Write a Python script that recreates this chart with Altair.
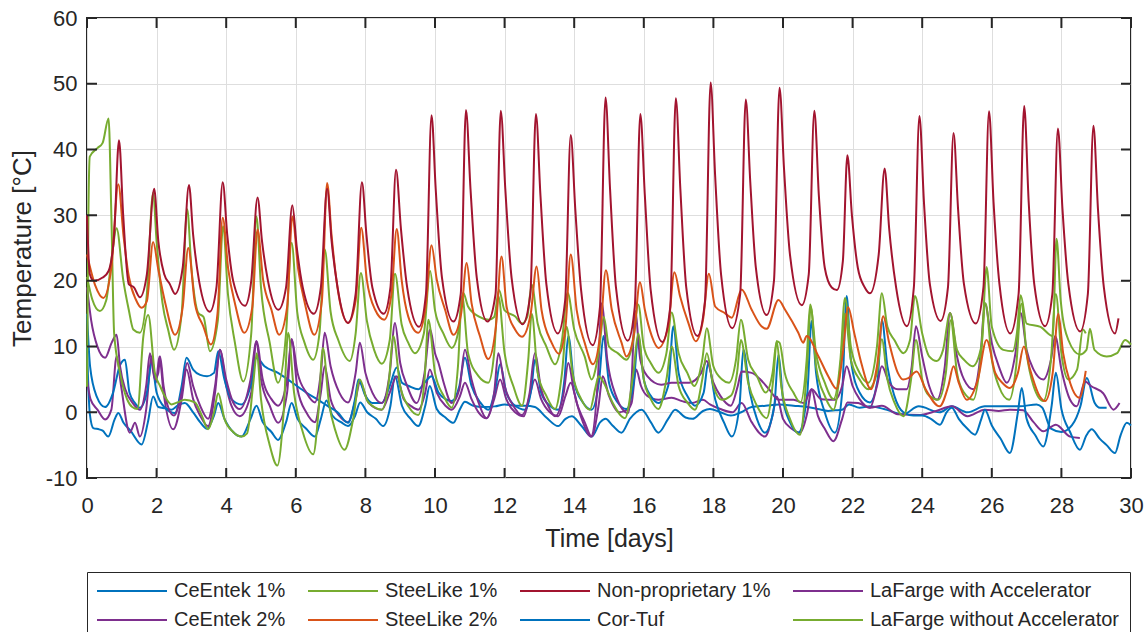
import altair as alt
import pandas as pd

# ---- series data: (time [days], temperature [°C]) ----
NONPROP_1 = [(0,30),(0.08,21),(0.2,20),(0.45,20.5),(0.62,21.5),(0.78,27),(0.92,41.4),(1.04,30),(1.2,19.5),(1.35,19),
 (1.52,17.5),(1.72,21),(1.93,34),(2.05,26),(2.22,21),(2.38,19.5),(2.53,18),(2.75,22),(2.93,34.6),(3.05,27),(3.22,20),
 (3.53,15.3),(3.72,19),(3.9,35),(4.03,27),(4.2,20),(4.54,16.2),(4.72,20),(4.9,32.7),(5.03,26),(5.2,20),(5.5,15.6),
 (5.72,19),(5.9,31.5),(6.03,25),(6.2,19),(6.52,15),(6.72,19),(6.9,34),(7.03,26),(7.2,19),(7.5,13.6),(7.72,18),(7.9,35),
 (8.03,27),(8.2,19),(8.53,15),(8.72,19),(8.88,36.9),(9.02,28),(9.2,19),(9.54,13),(9.74,18),(9.9,45.2),(10.02,34),
 (10.2,20.5),(10.53,13.8),(10.74,18),(10.89,46),(11.02,34),(11.2,20.5),(11.51,13.8),(11.74,18),(11.89,45.9),(12.02,34),
 (12.2,20.5),(12.52,13.4),(12.74,18),(12.9,45.4),(13.03,33),(13.2,19.5),(13.53,12),(13.74,17),(13.9,42.2),(14.03,31),
 (14.2,18.5),(14.53,10.2),(14.74,16),(14.9,47.9),(15.03,34),(15.2,19),(15.54,10.9),(15.74,16),(15.9,45.4),(16.03,33),
 (16.2,18.5),(16.53,10.7),(16.76,16),(16.92,47.8),(17.05,34),(17.22,19),(17.54,11.6),(17.76,17),(17.92,50.2),(18.05,36),
 (18.22,21),(18.54,12.8),(18.77,18),(18.93,47.6),(19.06,35),(19.22,22),(19.53,14.8),(19.74,20),(19.9,49.4),(20.03,37),
 (20.2,24),(20.54,16.3),(20.74,21),(20.9,45.9),(21.03,33),(21.2,22),(21.4,19),(21.55,18.6),(21.72,23),(21.85,39.1),
 (21.98,30),(22.15,22),(22.35,19),(22.5,18.1),(22.75,24),(22.92,37.1),(23.05,28),(23.25,19),(23.56,13.1),(23.76,19),
 (23.92,45.1),(24.05,32),(24.22,19.5),(24.53,13.9),(24.74,19),(24.9,42.5),(25.03,31),(25.2,19.5),(25.54,13.5),(25.76,19),
 (25.92,45.8),(26.05,32),(26.22,19.5),(26.53,12),(26.77,18),(26.93,46.6),(27.06,32),(27.22,19.5),(27.53,13.1),(27.74,18),
 (27.9,43.2),(28.03,31),(28.2,19.5),(28.54,12.3),(28.76,18),(28.92,43.6),(29.05,31),(29.22,19),(29.54,12),(29.64,14.3)]

STEELIKE_2 = [(0,24),(0.23,19.4),(0.47,17.4),(0.7,22),(0.9,34.7),(1.05,26.8),(1.2,20.7),(1.4,17.2),(1.57,15.9),(1.72,16.9),
 (1.9,25.9),(2.05,21.7),(2.25,16.6),(2.53,11.8),(2.75,16),(2.91,25),(3.1,16.6),(3.34,13.1),(3.56,10.3),(3.75,15),(3.9,29.6),
 (4.06,21.7),(4.25,16.6),(4.52,12.1),(4.75,16),(4.9,27.8),(5.06,20.2),(5.3,15.6),(5.52,11.8),(5.75,16),(5.9,29.8),(6.07,21.7),
 (6.26,16.6),(6.53,11.8),(6.75,17),(6.9,34.9),(7.03,26.8),(7.22,18.2),(7.5,13.6),(7.72,17),(7.88,28.1),(8.04,20.2),(8.28,15.6),
 (8.54,14.1),(8.75,18),(8.9,27.9),(9.04,20.2),(9.23,14.6),(9.52,12.1),(9.73,16),(9.9,25.4),(10.05,20.2),(10.29,15.6),
 (10.53,11.8),(10.75,15),(10.91,22.7),(11.05,16.6),(11.29,11.6),(11.53,8.1),(11.75,13),(11.91,23.7),(12.06,16),(12.3,12.6),
 (12.5,11.5),(12.75,15),(12.92,22.2),(13.06,15.6),(13.35,10.6),(13.56,8.9),(13.75,13),(13.9,24),(14.07,15.6),(14.3,10.6),
 (14.54,7.3),(14.75,12),(14.91,21.6),(15.08,15.6),(15.36,10.6),(15.5,8.5),(15.72,12),(15.89,19.8),(16.03,15.6),(16.23,11.6),
 (16.42,9.8),(16.7,13),(16.88,21.3),(17.04,17.7),(17.28,13.6),(17.49,10.8),(17.7,14),(17.87,21.1),(18.05,16.1),(18.33,15.1),
 (18.53,14.4),(18.81,18.7),(19.1,15.6),(19.38,13.1),(19.53,12.7),(19.87,17.1),(20.06,15.6),(20.44,12.1),(20.58,10.6),
 (20.68,11.6),(21.02,8.5),(21.3,5.5),(21.54,3.6),(21.72,9),(21.87,16),(22.05,12),(22.25,7.5),(22.53,3.5),(22.7,7),
 (22.88,14.6),(23.05,10.6),(23.3,6),(23.45,5),(23.6,5.2),(23.84,6.2),(24.1,3.5),(24.5,0.9),(24.75,4),(24.9,7),(25.05,4.5),
 (25.28,1.9),(25.6,5),(25.85,11),(26.1,6),(26.3,4.5),(26.52,3.7),(26.75,6),(26.92,10),(27.1,6.5),(27.38,2.4),(27.53,1.7),
 (27.75,6),(27.91,15),(28.05,9),(28.25,4.5),(28.52,2.2),(28.7,6.3)]

STEELIKE_1 = [(0,20.6),(0.15,17.2),(0.37,15.4),(0.55,17),(0.72,24),(0.85,28),(1.04,20.2),(1.2,15.6),(1.33,12.6),(1.52,12.1),
 (1.72,18),(1.9,33.4),(2.0,26),(2.17,16.6),(2.33,12.6),(2.5,9.5),(2.72,15),(2.88,30.9),(3.0,22),(3.2,15.1),(3.35,14.5),
 (3.53,9.3),(3.76,14),(3.91,28.3),(4.05,18),(4.25,10.6),(4.49,4.7),(4.72,12),(4.87,29.8),(5.0,19),(5.25,10.6),(5.49,4.5),
 (5.72,12),(5.88,25.8),(6.04,15.3),(6.25,10.6),(6.5,8.0),(6.68,12),(6.83,24.8),(7.0,15.3),(7.22,11),(7.55,7.8),(7.72,12),
 (7.87,21.2),(8.04,14),(8.25,9.5),(8.47,7.4),(8.7,11),(8.85,21.1),(9.04,13.4),(9.23,10.6),(9.42,9.0),(9.68,12),(9.86,21.5),
 (10.0,15.5),(10.24,12),(10.48,9.8),(10.66,12),(10.81,18.2),(10.95,16.1),(11.25,14.6),(11.55,14.1),(11.7,14.5),(11.84,18.6),
 (12.0,15.5),(12.3,14.6),(12.5,13.5),(12.65,14.5),(12.78,19.4),(12.95,13.5),(13.2,10),(13.45,7.3),(13.65,11),(13.81,18.2),
 (14.0,12.6),(14.3,8.5),(14.5,5.0),(14.7,9),(14.85,14.5),(15.0,10),(15.25,9),(15.5,8),(15.7,11),(15.84,16.4),(16.0,10),
 (16.2,7.5),(16.42,6),(16.65,9),(16.8,15.2),(17.0,9),(17.25,6),(17.45,4),(17.68,8),(17.81,12.8),(18.0,7),(18.25,5),
 (18.45,4.5),(18.65,8),(18.79,14.1),(19.0,8),(19.25,5.5),(19.5,3),(19.7,6),(19.82,10.8),(19.9,10.6),(20.05,6),(20.3,3),
 (20.5,1.5),(20.68,8),(20.78,16.4),(20.95,9),(21.2,4.5),(21.45,2),(21.65,8),(21.78,17.4),(21.95,10),(22.2,6),(22.45,4.5),
 (22.7,10),(22.84,18.1),(23.0,13),(23.2,11),(23.46,9),(23.65,11),(23.79,17.7),(24.0,12),(24.2,8.5),(24.42,7.8),(24.6,9.5),
 (24.8,15.1),(25.0,9.5),(25.2,8),(25.45,7),(25.7,10),(25.85,22.1),(26.0,13),(26.33,9.5),(26.6,9.3),(26.72,12),(26.83,17.8),
 (27.0,13.5),(27.4,13),(27.75,11.6),(27.86,26.4),(27.98,17),(28.2,11),(28.53,8.8),(28.72,9.5),(28.82,12.7),(28.95,9.5),
 (29.3,8.5),(29.6,9),(29.83,11.0),(30,10.3)]

LAFARGE_WITHOUT = [(0,3.9),(0.04,30),(0.08,38.9),(0.3,40.2),(0.45,41),(0.62,44.7),(0.7,30),(0.78,12),(0.95,6),(1.15,2),
 (1.3,0.8),(1.45,0.5),(1.62,11.6),(1.76,14.8),(1.95,6),(2.1,4),(2.24,2.4),(2.43,1.2),(2.6,1.5),(2.81,1.9),(3.1,1.5),
 (3.3,-0.5),(3.48,-2.6),(3.65,0),(3.77,2.9),(3.95,-1),(4.2,-3),(4.44,-3.7),(4.6,-3.2),(4.78,4.5),(4.88,9),(5.0,2),
 (5.25,-5),(5.47,-8.1),(5.65,0),(5.78,12.1),(5.95,3),(6.2,-3),(6.5,-6.4),(6.65,0),(6.78,9.8),(6.95,1.5),(7.15,-3),
 (7.4,-5.7),(7.65,-1),(7.84,5.0),(8.05,1.8),(8.25,0.8),(8.47,0.4),(8.68,5),(8.8,11.6),(9.0,4),(9.25,0.8),(9.52,-0.4),
 (9.7,5),(9.81,14.1),(10.0,6),(10.25,2.5),(10.48,0.7),(10.66,7),(10.78,17.7),(10.95,9),(11.25,5.5),(11.53,4.5),(11.7,9),
 (11.82,17.7),(12.0,9),(12.25,4),(12.5,1.0),(12.68,8),(12.78,15),(12.95,6),(13.2,2.5),(13.45,0.5),(13.65,6),(13.78,13),
 (13.95,6),(14.2,2),(14.45,0.4),(14.62,4),(14.7,5.5),(14.85,4.5),(15.1,1.5),(15.46,-0.9),(15.7,6),(15.84,12),(16.0,5),
 (16.2,2),(16.42,0.5),(16.65,5),(16.8,10),(17.0,4),(17.25,1.5),(17.47,0.4),(17.68,5),(17.81,9),(18.0,4),(18.24,1.9),
 (18.5,2.5),(18.68,6),(18.79,11),(19.0,4.5),(19.25,1),(19.53,-0.9),(19.72,5),(19.82,10.8),(19.95,4),(20.2,-1),(20.49,-3.4),
 (20.68,6),(20.8,16),(20.95,7),(21.2,2.5),(21.45,0.4),(21.65,7),(21.78,15),(21.95,8),(22.2,5),(22.45,3.5),(22.7,6),
 (22.84,11.1),(23.0,5),(23.2,1.5),(23.46,-0.6),(23.68,5),(23.82,11),(24.0,5),(24.2,2.5),(24.46,1.9),(24.68,6),(24.82,14),
 (25.0,6),(25.2,3),(25.47,1.9),(25.68,8),(25.82,16.6),(26.0,8),(26.2,4),(26.5,1.9),(26.7,7),(26.85,16.5),(27.0,9),
 (27.2,4),(27.48,1.7),(27.7,8),(27.84,18),(28.0,9),(28.2,5),(28.45,6.5),(28.62,12.6),(28.7,12)]

LAFARGE_WITH = [(0,19),(0.12,14),(0.3,10),(0.52,8.3),(0.71,10.6),(0.85,11.8),(0.95,7),(1.1,3.5),(1.3,1.5),(1.52,0.4),
 (1.7,4),(1.81,9.0),(1.95,5),(2.05,6),(2.1,8.5),(2.2,4),(2.35,0.5),(2.5,-0.5),(2.72,3),(2.88,7.5),(3.05,4),(3.25,1),
 (3.48,-1),(3.68,4),(3.82,9.5),(4.0,5),(4.2,1.5),(4.39,0.5),(4.7,5),(4.87,10.8),(5.05,5),(5.3,2),(5.49,1),(5.75,5),
 (5.88,11.1),(6.05,6),(6.3,3),(6.55,1.5),(6.72,6),(6.83,12.1),(7.0,7),(7.25,3),(7.5,1.5),(7.72,6),(7.84,10.6),(8.0,6),
 (8.2,3),(8.47,1.4),(8.7,6),(8.85,13.6),(9.0,7.5),(9.2,4),(9.47,1.4),(9.7,6),(9.86,12.6),(10.0,9),(10.1,7.5),(10.25,4.5),
 (10.48,1.4),(10.7,3.5),(10.86,9.5),(11.05,5),(11.25,1.5),(11.48,-0.9),(11.7,3),(11.82,9),(12.0,4),(12.25,1),(12.49,-0.4),
 (12.72,3),(12.87,9),(13.05,3.5),(13.25,1),(13.45,-0.6),(13.7,3),(13.83,7.5),(14.0,3),(14.25,-1.5),(14.48,-3.7),(14.68,5),
 (14.79,16.6),(14.95,8),(15.2,2.5),(15.55,-0.1),(15.65,5),(15.75,15.4),(15.9,8),(16.1,5.5),(16.5,4.2),(16.8,4.5),
 (17.3,4.5),(17.65,6),(17.81,7.8),(18.0,4.5),(18.2,2.5),(18.5,1),(18.7,4),(18.81,6.2),(19.1,6),(19.35,5),(19.6,3.5),
 (19.87,1.9),(20.3,1.9),(20.6,1.4),(20.82,3.5),(21.1,2),(21.5,1.9),(21.7,4),(21.83,7.0),(22.0,4),(22.2,2),(22.5,0.7),
 (22.7,4),(22.84,7.0),(23.05,4.5),(23.3,3.5),(23.55,3.5),(23.7,7),(23.82,13.1),(24.0,8.5),(24.2,4),(24.42,1.9),(24.65,7),
 (24.8,15.1),(25.0,8.5),(25.2,5),(25.47,3.5),(25.68,9),(25.8,16.6),(26.0,10.5),(26.2,7),(26.43,4.5),(26.68,9),(26.83,15.1),
 (27.0,9.5),(27.2,6.5),(27.48,5.0),(27.7,8),(27.82,11.6),(28.0,6.5),(28.25,1.9),(28.44,0.9),(28.68,4.7),(28.85,4),
 (29.2,2.9),(29.5,0.4),(29.67,1.4)]

CEENTEK_2 = [(0,5),(0.1,2),(0.3,0.4),(0.52,-1.1),(0.7,0.4),(0.85,8.5),(0.98,4),(1.23,-3.1),(1.38,-1.6),(1.52,-3.7),
 (1.7,0.4),(1.86,8.5),(1.98,4.5),(2.08,8.5),(2.2,3),(2.48,-2.6),(2.72,2),(2.86,6.5),(3.05,2),(3.25,-0.5),(3.48,-2.1),
 (3.68,3),(3.82,9.5),(4.0,4),(4.15,1),(4.39,-0.6),(4.72,3),(4.87,10.8),(5.0,5),(5.25,1),(5.49,-1.6),(5.75,3),(5.88,11.1),
 (6.05,3.5),(6.3,0),(6.55,-1.5),(6.72,3),(6.83,7),(7.0,2),(7.25,-0.5),(7.5,-1.5),(7.72,2),(7.84,4.5),(8.1,1.4),(8.47,0.4),
 (8.7,3),(8.9,5.5),(9.1,2),(9.3,1),(9.52,0.4),(9.72,3),(9.85,6.5),(10.05,3),(10.3,1),(10.48,0.4),(10.72,2.5),(10.86,4.5),
 (11.05,2),(11.25,0),(11.48,-0.9),(11.7,2),(11.87,5),(12.05,2),(12.3,0),(12.55,-0.6),(12.72,2.5),(12.87,5),(13.05,2),
 (13.3,0),(13.54,-0.6),(13.75,2.5),(13.9,4.5),(14.1,1),(14.3,-1.5),(14.5,-3.7),(14.7,1),(14.82,5.5),(15.0,2.5),(15.3,0),
 (15.55,0.5),(15.65,1.4),(15.78,6.5),(15.92,4),(16.1,2.5),(16.42,1.9),(16.8,2.2),(17.1,1.7),(17.38,1.4),(17.7,1.9),
 (17.9,1.2),(18.2,0.5),(18.55,0),(18.81,1.4),(19.1,-1.5),(19.48,-3.7),(19.7,-0.5),(19.82,2.4),(20.0,-1),(20.25,-2.5),
 (20.49,-3.1),(20.7,0),(20.82,3.5),(21.0,-0.5),(21.2,-2.5),(21.45,-4.4),(21.7,-1),(21.85,1.5),(22.16,1.4),(22.5,0.7),
 (22.84,1.0),(23.3,-0.3),(23.94,-0.4),(24.4,0.2),(24.85,0.9),(25.3,-0.6),(25.8,0.4),(26.2,0.2),(26.52,0.4),(26.9,0.3),
 (27.2,-1.5),(27.48,-2.9),(27.84,-1.9),(28.25,-3.7),(28.53,-3.9)]

COR_TUF = [(0,15),(0.09,6.9),(0.28,2.4),(0.52,0.8),(0.75,3),(0.95,7.2),(1.09,8.0),(1.22,3),(1.38,1.4),(1.52,0.7),(1.72,3),
 (1.86,7.5),(2.0,3),(2.24,0.7),(2.53,-0.1),(2.72,4),(2.86,8.3),(3.05,6.5),(3.25,5.7),(3.45,5.5),(3.65,6),(3.77,9.3),
 (3.95,5),(4.15,2),(4.44,1.2),(4.7,4),(4.87,8.3),(5.1,7),(5.49,6.0),(5.9,4.5),(6.3,3),(6.64,1.9),(6.9,1),(7.2,0),
 (7.5,-1.6),(7.7,2),(7.8,5.0),(8.0,2.5),(8.2,1.4),(8.47,1.4),(8.7,4),(8.9,6.8),(9.05,4.5),(9.25,4),(9.52,3.5),(9.7,4.5),
 (9.9,5.5),(10.1,3),(10.3,2),(10.48,1.7),(10.7,4),(10.86,8.3),(11.05,4),(11.3,1.5),(11.53,0.4),(11.75,4),(11.87,7.3),
 (12.05,3),(12.3,1),(12.59,0.4),(12.78,4),(12.87,8.0),(13.05,3),(13.3,1),(13.54,0.4),(13.72,5),(13.83,11.6),(14.0,4.5),
 (14.25,1.5),(14.5,0.4),(14.72,5),(14.84,11.6),(15.0,4.5),(15.25,1.5),(15.5,0.5),(15.72,5),(15.84,11.6),(16.0,5),(16.2,2.5),
 (16.42,1.4),(16.7,4),(16.85,13.1),(17.0,6),(17.25,2.5),(17.47,1),(17.72,3),(17.85,7.5),(18.05,2),(18.3,-1.5),(18.53,-3.7),
 (18.75,1),(18.86,9.5),(19.05,3),(19.25,-1),(19.48,-3.1),(19.75,1),(19.87,8.8),(20.0,2),(20.2,-1.5),(20.44,-3.1),(20.7,3),
 (20.82,13.9),(20.95,6),(21.2,0),(21.49,-3.1),(21.7,3),(21.83,17.7),(21.95,8),(22.2,3),(22.5,1.5),(22.72,5),(22.84,14.1),
 (23.0,7),(23.2,2.5),(23.46,0),(23.75,-0.5),(24.0,-0.5),(24.25,-1),(24.51,-1.9),(24.7,0),(24.85,0.7),(25.05,-1),(25.3,-2.5),
 (25.52,-3.4),(25.7,-1),(25.8,0.4),(26.0,-2),(26.25,-4),(26.52,-6.2),(26.75,0),(26.86,3.7),(27.0,-1),(27.25,-3.5),
 (27.48,-5.2),(27.72,1),(27.84,6.0),(28.0,0.5),(28.25,-3),(28.53,-5.7),(28.72,-3.5),(28.87,-2.6),(29.1,-4),(29.3,-5),
 (29.54,-6.2),(29.7,-3.5),(29.88,-1.6),(30,-2)]

CEENTEK_1 = [(0,10),(0.08,-0.2),(0.18,-2.4),(0.35,-2.6),(0.45,-2.8),(0.61,-3.7),(0.8,-1),(0.9,-0.1),(1.05,-1.6),(1.25,-2.8),
 (1.57,-4.9),(1.75,-1.5),(1.9,2.4),(2.05,0.8),(2.25,0.6),(2.43,0.4),(2.6,1),(2.81,1.4),(3.05,0),(3.25,-1.5),(3.45,-2.5),
 (3.65,-0.5),(3.77,1.4),(3.95,-1),(4.2,-3),(4.44,-3.7),(4.7,-1),(4.87,1),(5.05,-1.5),(5.3,-3),(5.49,-4.2),(5.72,-1.5),
 (5.88,1.4),(6.05,-1),(6.3,-2.5),(6.55,-3.7),(6.72,-1),(6.88,1.8),(7.05,-0.5),(7.3,-1.5),(7.5,-2.1),(7.7,-0.6),(7.85,1.5),
 (8.05,0),(8.3,-1),(8.51,-2.1),(8.72,1),(8.85,5.5),(9.05,1),(9.3,-1),(9.52,-2.1),(9.72,1),(9.85,4),(10.05,0.5),(10.3,-0.8),
 (10.53,-1.6),(10.72,0.5),(10.86,1.6),(11.1,1),(11.4,0.8),(11.72,0.9),(12.0,1.2),(12.3,1),(12.6,1),(12.87,0.8),(13.2,-0.8),
 (13.54,-2.1),(13.75,-1),(13.93,-0.6),(14.2,-2),(14.5,-3.7),(14.75,-1.5),(14.9,-1),(15.1,-2),(15.36,-3.1),(15.6,-1),
 (15.94,0.4),(16.2,-1.5),(16.42,-3.1),(16.7,-1),(16.9,0.4),(17.2,-0.8),(17.4,-1),(17.7,0.2),(17.9,0.5),(18.2,0),(18.5,-0.5),
 (18.8,0),(19.1,0.8),(19.5,1),(19.9,1.2),(20.3,1),(20.7,0.8),(21.0,0.5),(21.3,0.2),(21.5,0.3),(21.7,0.4),(21.9,1.2),
 (22.2,0.7),(22.5,0.9),(22.9,0.5),(23.46,-0.3),(23.9,0.9),(24.5,0),(24.85,0.9),(25.3,0),(25.8,0.9),(26.3,0.9),(26.8,0.9),
 (27.29,1.2),(27.45,0.7),(27.7,-2.5),(28.0,-3),(28.3,-2),(28.55,1),(28.73,5.2),(28.95,1.5),(29.11,0.7),(29.3,0.7)]

# legend order (row-wise, 4 columns) and matching colours
LEGEND_ORDER = ["CeEntek 1%", "SteeLike 1%", "Non-proprietary 1%", "LaFarge with Accelerator",
                "CeEntek 2%", "SteeLike 2%", "Cor-Tuf", "LaFarge without Accelerator"]
LEGEND_COLORS = ["#0072BD", "#77AC30", "#A2142F", "#7E2F8E",
                 "#7E2F8E", "#D95319", "#0072BD", "#77AC30"]

# drawing order (last drawn on top)
SERIES = [("CeEntek 1%", CEENTEK_1), ("CeEntek 2%", CEENTEK_2), ("Cor-Tuf", COR_TUF),
          ("LaFarge with Accelerator", LAFARGE_WITH), ("SteeLike 1%", STEELIKE_1),
          ("LaFarge without Accelerator", LAFARGE_WITHOUT), ("SteeLike 2%", STEELIKE_2),
          ("Non-proprietary 1%", NONPROP_1)]

X_TICKS = list(range(0, 31, 2))
Y_TICKS = list(range(-10, 61, 10))

rows = []
for order_i, (name, pts) in enumerate(SERIES):
    for t, v in pts:
        rows.append({"series": name, "t": t, "v": v, "k": order_i})
df = pd.DataFrame(rows)

FONT = "Liberation Sans"
DARK = "#262626"
W, H = 1044, 460
TICK = 10

x_scale = alt.Scale(domain=[0, 30], nice=False, zero=False)
y_scale = alt.Scale(domain=[-10, 60], nice=False, zero=False)

x_axis = alt.Axis(orient="bottom", values=X_TICKS, title="Time [days]", grid=True,
                  gridColor="#dedede", gridWidth=1, ticks=False, domain=False,
                  labelFlush=False, labelExpr="datum.value",
                  labelFont=FONT, labelFontSize=22, labelColor=DARK, labelPadding=17,
                  titleFont=FONT, titleFontSize=25, titleFontWeight="normal",
                  titleColor=DARK, titlePadding=10)
y_axis = alt.Axis(orient="left", values=Y_TICKS, title="Temperature [°C]", grid=True,
                  gridColor="#dedede", gridWidth=1, ticks=False, domain=False,
                  labelFlush=False, labelExpr="datum.value",
                  labelFont=FONT, labelFontSize=22, labelColor=DARK, labelPadding=10,
                  titleFont=FONT, titleFontSize=26, titleFontWeight="normal",
                  titleColor=DARK, titlePadding=10)

lines = alt.Chart(df).mark_line(strokeWidth=2, interpolate="monotone").encode(
    x=alt.X("t:Q", scale=x_scale, axis=x_axis),
    y=alt.Y("v:Q", scale=y_scale, axis=y_axis),
    color=alt.Color("series:N",
                    scale=alt.Scale(domain=LEGEND_ORDER, range=LEGEND_COLORS),
                    legend=alt.Legend(orient="none", legendX=0, legendY=554, columns=4,
                                      direction="horizontal", title=None,
                                      symbolType="stroke", symbolSize=4900, symbolStrokeWidth=2,
                                      clipHeight=20, labelFont=FONT, labelFontSize=20,
                                      labelColor=DARK, labelOffset=6, labelLimit=400,
                                      columnPadding=21, rowPadding=9, padding=9,
                                      strokeColor=DARK, fillColor="#ffffff")),
    order=alt.Order("k:Q"),
)

# inward tick marks on all four sides: dashed rules at the tick values (dash only at both ends)
x_ticks = alt.Chart(pd.DataFrame({"t": X_TICKS})).mark_rule(
    color=DARK, strokeWidth=2, strokeDash=[TICK, H - 2 * TICK, TICK]
).encode(x=alt.X("t:Q", scale=x_scale, axis=x_axis))

y_ticks = alt.Chart(pd.DataFrame({"v": Y_TICKS})).mark_rule(
    color=DARK, strokeWidth=2, strokeDash=[TICK, W - 2 * TICK, TICK]
).encode(y=alt.Y("v:Q", scale=y_scale, axis=y_axis))

chart = alt.layer(
    lines, x_ticks, y_ticks
).properties(
    width=W, height=H,
    autosize=alt.AutoSizeParams(type="none"),
    padding={"left": 87, "top": 18, "right": 16, "bottom": 154},
    background="white",
).configure_view(stroke=DARK, strokeWidth=2)

chart.save("out.html", embed_options={"renderer": "svg", "actions": False})
